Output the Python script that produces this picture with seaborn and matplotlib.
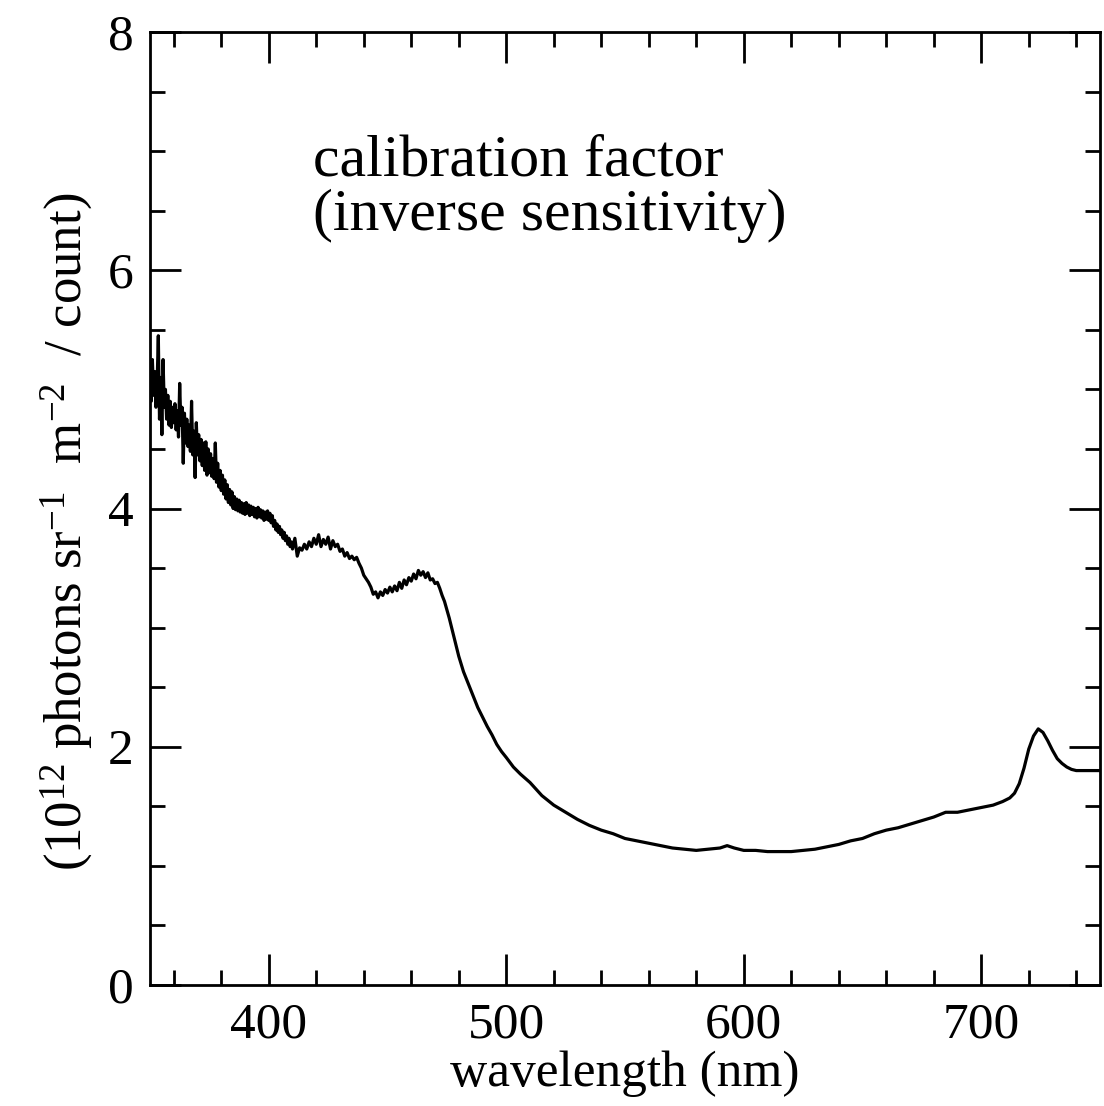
import matplotlib
matplotlib.use("Agg")
import matplotlib.pyplot as plt
from matplotlib.ticker import MultipleLocator
import seaborn as sns
import pandas as pd

# wavelength (nm) and calibration factor
# noisy blue end, sampled every 0.5 nm
wl_blue = [350 + 0.5 * i for i in range(121)]
cal_blue = [
    5.10, 4.90, 5.25, 4.95, 5.15, 4.85, 5.05, 5.45, 4.75, 5.10,
    4.62, 5.25, 4.85, 5.00, 4.75, 4.95, 4.70, 4.90, 4.68, 4.85,
    4.72, 4.88, 4.66, 4.82, 4.60, 5.05, 4.70, 4.85, 4.38, 4.80,
    4.55, 4.75, 4.52, 4.70, 4.48, 4.90, 4.45, 4.65, 4.26, 4.72,
    4.45, 4.62, 4.40, 4.58, 4.36, 4.55, 4.32, 4.56, 4.28, 4.50,
    4.30, 4.46, 4.27, 4.42, 4.25, 4.55, 4.22, 4.38, 4.18, 4.32,
    4.15, 4.28, 4.12, 4.24, 4.08, 4.20, 4.05, 4.16, 4.03, 4.14,
    4.00, 4.10, 3.99, 4.08, 3.98, 4.07, 3.97, 4.05, 3.96, 4.04,
    3.95, 4.05, 3.96, 4.03, 3.94, 4.02, 3.95, 4.01, 3.93, 4.00,
    3.92, 4.01, 3.93, 3.99, 3.92, 3.98, 3.90, 3.97, 3.91, 3.98,
    3.90, 3.96, 3.88, 3.94, 3.85, 3.90, 3.82, 3.87, 3.80, 3.85,
    3.78, 3.82, 3.75, 3.80, 3.73, 3.77, 3.70, 3.75, 3.68, 3.72,
    3.66,
]

# 411-480 nm, every 1 nm
wl_mid = list(range(411, 481))
cal_mid = [
    3.75, 3.60, 3.67, 3.65, 3.70, 3.66, 3.72, 3.68, 3.75,
    3.70, 3.78, 3.68, 3.74, 3.70, 3.76, 3.66, 3.73, 3.68, 3.70,
    3.64, 3.66, 3.60, 3.63, 3.58, 3.60, 3.57, 3.59, 3.54, 3.50,
    3.44, 3.41, 3.38, 3.34, 3.28, 3.30, 3.25, 3.30, 3.27, 3.32,
    3.29, 3.34, 3.30, 3.35, 3.31, 3.38, 3.33, 3.40, 3.36, 3.42,
    3.39, 3.45, 3.41, 3.48, 3.44, 3.47, 3.42, 3.46, 3.40, 3.41,
    3.37, 3.38, 3.33, 3.27, 3.22, 3.15, 3.08, 3.00, 2.92, 2.84,
    2.76,
]

# smooth red end
wl_red = [482, 484, 486, 488, 490, 492, 494, 496, 498, 500, 503, 506, 510,
          515, 520, 525, 530, 535, 540, 545, 550, 555, 560, 565, 570, 575,
          580, 585, 590, 593, 596, 600, 605, 610, 615, 620, 625, 630, 635,
          640, 645, 650, 655, 660, 665, 670, 675, 680, 685, 690, 695, 700,
          705, 709, 712, 714, 716, 718, 720, 722, 724, 726, 728, 730, 732,
          734, 736, 738, 740, 745, 750]
cal_red = [2.63, 2.53, 2.43, 2.33, 2.25, 2.17, 2.10, 2.02, 1.96, 1.91, 1.83,
           1.77, 1.70, 1.59, 1.51, 1.45, 1.39, 1.34, 1.30, 1.27, 1.23, 1.21,
           1.19, 1.17, 1.15, 1.14, 1.13, 1.14, 1.15, 1.17, 1.15, 1.13, 1.13,
           1.12, 1.12, 1.12, 1.13, 1.14, 1.16, 1.18, 1.21, 1.23, 1.27, 1.30,
           1.32, 1.35, 1.38, 1.41, 1.45, 1.45, 1.47, 1.49, 1.51, 1.54, 1.57,
           1.61, 1.69, 1.82, 1.98, 2.09, 2.15, 2.12, 2.05, 1.97, 1.90, 1.86,
           1.83, 1.81, 1.80, 1.80, 1.80]

xticks = [400, 500, 600, 700]
yticks = [0, 2, 4, 6, 8]


def plot_calibration():
    data = pd.DataFrame({"wavelength": wl_blue + wl_mid + wl_red,
                         "factor": cal_blue + cal_mid + cal_red})

    sns.set_style("ticks")
    plt.rcParams["font.family"] = ["Liberation Serif", "DejaVu Serif"]
    plt.rcParams["mathtext.fontset"] = "custom"
    plt.rcParams["mathtext.rm"] = "Liberation Serif"
    plt.rcParams["mathtext.it"] = "Liberation Serif:italic"
    for key in ["text.color", "axes.labelcolor", "xtick.color",
                "ytick.color", "axes.edgecolor"]:
        plt.rcParams[key] = "black"

    fig = plt.figure(figsize=(11.04, 11.06), dpi=100)
    ax = fig.add_axes([150 / 1104, 121 / 1106, 950 / 1104, 953 / 1106])

    sns.lineplot(x="wavelength", y="factor", data=data, ax=ax,
                 color="black", linewidth=2.3, estimator=None)

    ax.set_xlim(350, 750)
    ax.set_ylim(0, 8)
    ax.set_xticks(xticks)
    ax.set_yticks(yticks)
    ax.xaxis.set_minor_locator(MultipleLocator(20))
    ax.yaxis.set_minor_locator(MultipleLocator(0.5))
    ax.tick_params(which="both", direction="in", top=True, right=True,
                   width=2, labelsize=37)
    ax.tick_params(which="major", length=22, pad=12)
    ax.tick_params(which="minor", length=10.5)
    for s in ax.spines.values():
        s.set_linewidth(2)

    ax.set_xlabel("wavelength (nm)", fontsize=37, labelpad=2)
    ax.set_ylabel(r"(10$^{12}$ photons sr$^{-1}$  m$^{-2}$  / count)",
                  fontsize=38)
    ax.yaxis.set_label_coords(-0.058, 0.475)

    ax.text(0.172, 0.892, "calibration factor\n(inverse sensitivity)",
            transform=ax.transAxes, fontsize=43, va="top", ha="left",
            linespacing=1.0)

    fig.savefig("out.png", dpi=100)


plot_calibration()
